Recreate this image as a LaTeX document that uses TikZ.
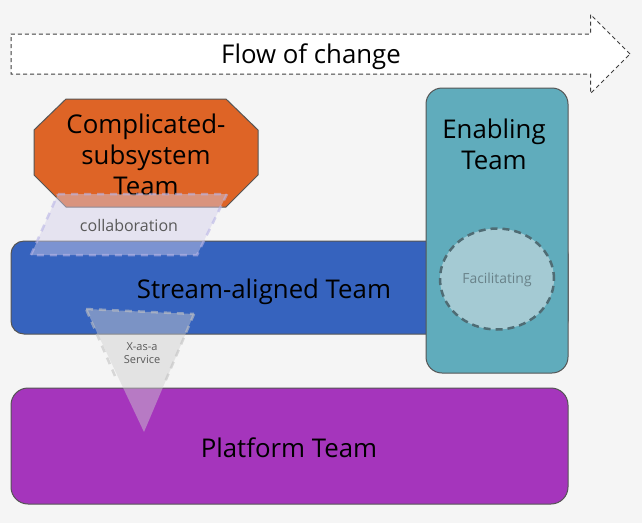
\documentclass[tikz,border=0pt]{standalone}
\usepackage{fontspec}
\setmainfont{Open Sans}
\usetikzlibrary{shapes.geometric, shapes.arrows}

\definecolor{paper}{HTML}{F5F5F5}
\definecolor{edgegrey}{HTML}{555555}
\definecolor{orangeteam}{HTML}{DE6426}
\definecolor{blueteam}{HTML}{3663BE}
\definecolor{purpleteam}{HTML}{A535BC}
\definecolor{tealteam}{HTML}{60ACBC}
\definecolor{lavender}{HTML}{D3CFEA}
\definecolor{lavedge}{HTML}{B9B5E6}
\definecolor{softgrey}{HTML}{CFCFCF}
\definecolor{circlefill}{HTML}{A4CAD3}
\definecolor{circleedge}{HTML}{4F6C74}

\tikzset{
	team/.style = {draw=edgegrey, line width=1pt, inner sep=0pt},
	teamtext/.style = {inner sep=0pt, align=center, font=\fontsize{25.8}{31}\selectfont},
	smalltext/.style = {inner sep=0pt, align=center, text=black!65}
}

\begin{document}
\begin{tikzpicture}[x=1pt, y=-1pt]

\useasboundingbox[fill=paper] (0,0) rectangle (642,523);

% flow arrow
\node[single arrow, draw=black!75, fill=white, dash pattern=on 4pt off 3pt, line width=1pt,
	inner xsep=0pt, inner ysep=19.5pt, minimum height=619pt, single arrow head extend=19.5pt,
	single arrow tip angle=90, single arrow head indent=0pt]	(flow)		at (310.5,54)	{};
\node[teamtext]													(flowtext)	at (311,57)		{Flow of change};

% teams
\node[team, rounded corners=13pt, fill=blueteam, minimum width=557pt, minimum height=93pt]		(stream)	at (289.5,287.5)	{};
\node[teamtext]																					(streamtext) at (264,292)		{Stream-aligned Team};
\node[team, rounded corners=17pt, fill=purpleteam, minimum width=557pt, minimum height=116pt]	(platform)	at (289.5,446)		{};
\node[teamtext]																					(platformtext) at (289,448)		{Platform Team};
\draw[team, fill=orangeteam] (66,99) -- (226,99) -- (258,130) -- (258,175) -- (226,207) -- (66,207) -- (34,175) -- (34,130) -- cycle;
\node[teamtext]																					(complicatedtext) at (146,155)	{Complicated-\\subsystem\\Team};
\node[team, rounded corners=16pt, fill=tealteam, minimum width=142pt, minimum height=285pt]		(enabling)	at (497,230.5)		{};
\node[teamtext]																					(enablingtext) at (494,144)		{Enabling\\Team};

% interactions
\node[ellipse, draw=circleedge, fill=circlefill, line width=2.5pt, dash pattern=on 7pt off 5pt,
	inner sep=0pt, minimum width=114pt, minimum height=101pt]									(facilitating) at (497,279)		{};
\node[smalltext, text=circleedge!85, font=\fontsize{13.9}{16}\selectfont]						(facilitatingtext) at (497,280)	{Facilitating};

\path[fill=lavender, fill opacity=0.45] (58,194) -- (227,194) -- (197,255) -- (31,255) -- cycle;
\draw[lavedge, draw opacity=0.6, line width=2.5pt, dash pattern=on 7pt off 6pt]
	(58,194) -- (227,194) -- (197,255) -- (31,255) -- cycle;
\node[smalltext, font=\fontsize{16}{18}\selectfont]												(collabtext) at (129,225)		{collaboration};

\path[fill=softgrey, fill opacity=0.45] (86,309) -- (194,314) -- (144,432) -- cycle;
\draw[softgrey!85!gray, draw opacity=0.6, line width=2.5pt, dash pattern=on 7pt off 6pt]
	(86,309) -- (194,314) (194,314) -- (165,382) (115,376) -- (86,309);
\node[smalltext, font=\fontsize{11}{13.5}\selectfont]											(xaastext) at (142,353)			{X-as-a\\Service};

\end{tikzpicture}
\end{document}
